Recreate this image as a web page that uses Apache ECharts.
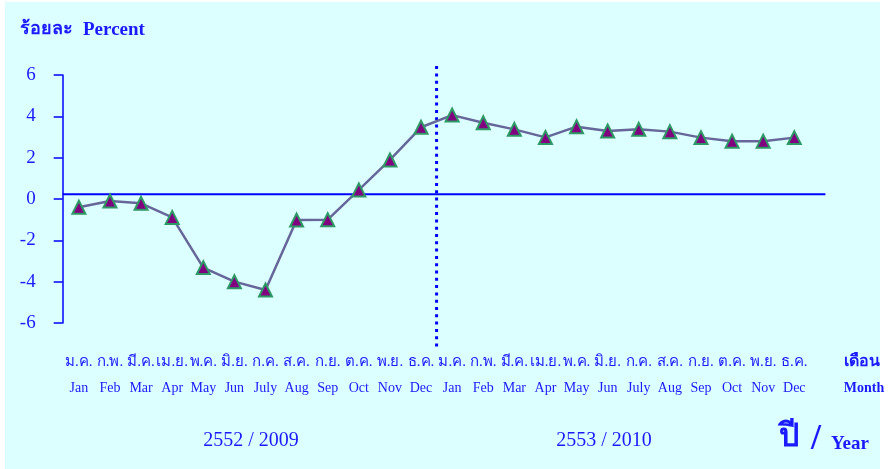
<!DOCTYPE html>
<html><head><meta charset="utf-8">
<script src="https://cdn.jsdelivr.net/npm/echarts@6/dist/echarts.min.js"></script>
<style>html,body{margin:0;padding:0;background:#fff}#c{width:896px;height:469px}</style>
</head><body><div id="c"></div>
<script>
const thaiMonths = ['ม.ค.','ก.พ.','มี.ค.','เม.ย.','พ.ค.','มิ.ย.','ก.ค.','ส.ค.','ก.ย.','ต.ค.','พ.ย.','ธ.ค.','ม.ค.','ก.พ.','มี.ค.','เม.ย.','พ.ค.','มิ.ย.','ก.ค.','ส.ค.','ก.ย.','ต.ค.','พ.ย.','ธ.ค.'];
const engMonths = ['Jan','Feb','Mar','Apr','May','Jun','July','Aug','Sep','Oct','Nov','Dec','Jan','Feb','Mar','Apr','May','Jun','July','Aug','Sep','Oct','Nov','Dec'];
const percentValues = [-0.40,-0.10,-0.21,-0.89,-3.32,-4.00,-4.40,-1.02,-1.00,0.44,1.89,3.47,4.06,3.69,3.37,2.98,3.50,3.29,3.37,3.26,2.97,2.80,2.80,2.97];
const yTicks = [-6,-4,-2,0,2,4,6];
const refLevel = 0.23;
const yearDivider = 11.5;
const yearLabels = ['2552 / 2009','2553 / 2010'];

const BLUE = '#1a1aff';
const SERIF = '"Liberation Serif","DejaVu Serif",serif';
const chart = echarts.init(document.getElementById('c'), null, {renderer:'canvas'});
const idx = percentValues.map((v,i)=>i);
chart.setOption({
  backgroundColor:'#ffffff',
  animation:false,
  graphic:[
    {type:'rect', z:-10, shape:{x:5,y:2,width:875,height:467}, style:{fill:'#dcffff'}},
    {type:'text', left:20, top:20, style:{text:'ร้อยละ', font:'bold 18px '+SERIF, fill:BLUE}},
    {type:'text', left:83, top:21, style:{text:'Percent', font:'bold 19px '+SERIF, fill:BLUE}},
    {type:'text', x:862, y:362, style:{text:'เดือน', font:'bold 16px '+SERIF, fill:BLUE, align:'center', verticalAlign:'middle'}},
    {type:'text', x:864, y:388, style:{text:'Month', font:'bold 14px '+SERIF, fill:BLUE, align:'center', verticalAlign:'middle'}},
    {type:'text', x:251, y:441, style:{text:yearLabels[0], font:'20px '+SERIF, fill:BLUE, align:'center', verticalAlign:'middle'}},
    {type:'text', x:604, y:441, style:{text:yearLabels[1], font:'20px '+SERIF, fill:BLUE, align:'center', verticalAlign:'middle'}},
    {type:'text', x:779, y:438, style:{text:'ปี', font:'bold 32px '+SERIF, fill:BLUE, verticalAlign:'middle'}},
    {type:'text', x:811, y:440, style:{text:'/', font:'bold 36px '+SERIF, fill:BLUE, verticalAlign:'middle'}},
    {type:'text', x:831, y:444, style:{text:'Year', font:'bold 19px '+SERIF, fill:BLUE, verticalAlign:'middle'}}
  ],
  grid:{left:62.7, right:70.6, top:75, bottom:146, containLabel:false},
  xAxis:{
    type:'value', min:-0.52, max:24,
    axisLine:{show:false}, axisTick:{show:false}, splitLine:{show:false},
    axisLabel:{
      customValues: idx,
      margin: 26,
      formatter:(v)=>{const i=Math.round(v); return '{th|'+thaiMonths[i]+'}\n{en|'+engMonths[i]+'}';},
      rich:{
        th:{fontFamily:SERIF, fontSize:15, color:BLUE, lineHeight:26},
        en:{fontFamily:SERIF, fontSize:14, color:BLUE, lineHeight:26}
      }
    }
  },
  yAxis:{
    type:'value', min:-6, max:6, interval:2,
    axisLine:{show:true, onZero:false, lineStyle:{color:'#0000ff', width:1.5}},
    axisTick:{show:true, length:9, lineStyle:{color:'#0000ff', width:1.5}},
    splitLine:{show:false},
    axisLabel:{margin:27, fontFamily:SERIF, fontSize:19, color:BLUE,
      customValues: yTicks}
  },
  series:[
    {type:'line', data:[[-0.52,refLevel],[24,refLevel]], symbol:'none', silent:true,
      lineStyle:{color:'#0000ff', width:2}, z:1},
    {type:'line', data:[[yearDivider,6.43],[yearDivider,-7.15]], symbol:'none', clip:false, silent:true,
      lineStyle:{color:'#0000ff', width:3, type:[3,4.3]}, z:1},
    {type:'line', data:percentValues.map((v,i)=>[i,v]),
      symbol:'triangle', symbolSize:13,
      itemStyle:{color:'#800080', borderColor:'#2f9966', borderWidth:2},
      lineStyle:{color:'#66669a', width:2.5}, z:3}
  ]
});
</script></body></html>
